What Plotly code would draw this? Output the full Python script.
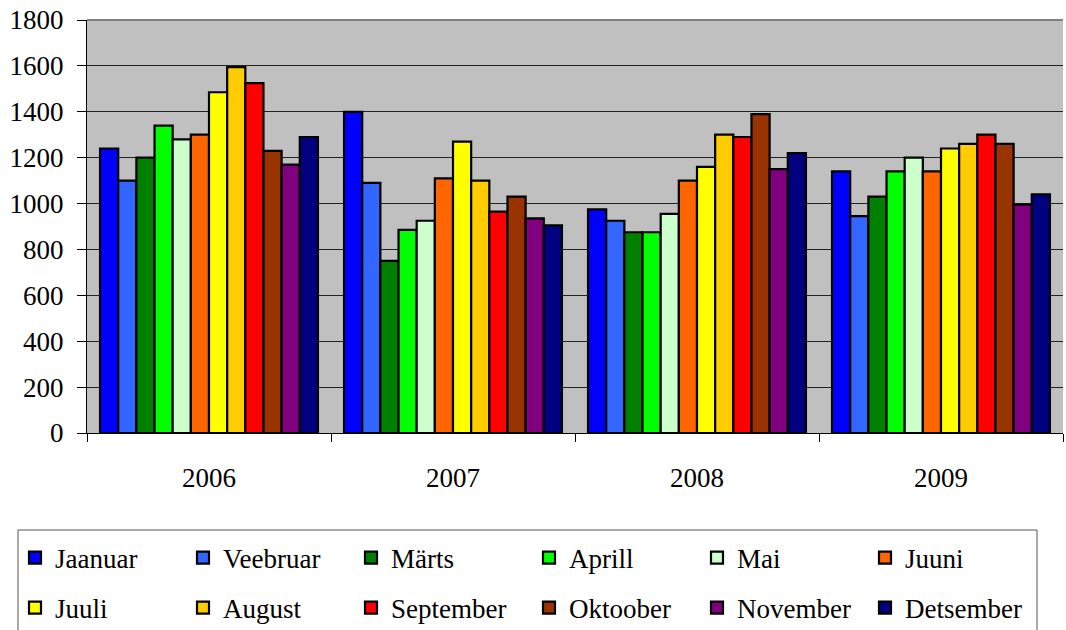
import plotly.graph_objects as go

years = ["2006", "2007", "2008", "2009"]
months = ["Jaanuar", "Veebruar", "Märts", "Aprill", "Mai", "Juuni",
          "Juuli", "August", "September", "Oktoober", "November", "Detsember"]
colors = ["#0000FF", "#3366FF", "#008000", "#00FF00", "#CCFFCC", "#FF6600",
          "#FFFF00", "#FFCC00", "#FF0000", "#993300", "#800080", "#000080"]

jaanuar = [1240, 1400, 975, 1140]
veebruar = [1100, 1090, 925, 945]
marts = [1200, 750, 875, 1030]
aprill = [1340, 885, 875, 1140]
mai = [1280, 925, 955, 1200]
juuni = [1300, 1110, 1100, 1140]
juuli = [1485, 1270, 1160, 1240]
august = [1595, 1100, 1300, 1260]
september = [1525, 965, 1290, 1300]
oktoober = [1230, 1030, 1390, 1260]
november = [1170, 935, 1150, 995]
detsember = [1290, 905, 1220, 1040]

series = [jaanuar, veebruar, marts, aprill, mai, juuni,
          juuli, august, september, oktoober, november, detsember]

legend_of = ["legend", "legend", "legend", "legend3", "legend3", "legend3",
             "legend2", "legend2", "legend2", "legend4", "legend4", "legend4"]

FONT = "Times New Roman, Liberation Serif, serif"
FS = 27

fig = go.Figure()
for name, vals, col, lg in zip(months, series, colors, legend_of):
    fig.add_trace(go.Bar(
        x=years, y=vals, name=name, legend=lg,
        marker=dict(color=col, line=dict(color="#000000", width=2.2)),
    ))

W, H = 1066, 630
ml, mr, mt, mb = 87, 3, 20, 197


def leg(xpx, ypx):
    return dict(
        orientation="h", xref="container", yref="container",
        x=xpx / W, y=1 - ypx / H, xanchor="left", yanchor="middle",
        bgcolor="rgba(0,0,0,0)", borderwidth=0,
        entrywidth=123, entrywidthmode="pixels",
        font=dict(family=FONT, size=FS, color="#000000"),
        itemclick=False, itemdoubleclick=False,
    )


fig.update_layout(
    width=W, height=H,
    margin=dict(l=ml, r=mr, t=mt, b=mb, autoexpand=False),
    paper_bgcolor="#FFFFFF",
    plot_bgcolor="#C0C0C0",
    barmode="group",
    bargap=0.107,
    bargroupgap=0,
    font=dict(family=FONT, size=FS, color="#000000"),
    showlegend=True,
    legend=leg(15, 558),
    legend2=leg(15, 608),
    legend3=leg(529, 558),
    legend4=leg(529, 608),
    xaxis=dict(
        type="category", showline=True, linecolor="#000000", linewidth=1,
        ticks="outside", tickson="boundaries", ticklen=8, tickcolor="#000000",
        ticklabelstandoff=21, automargin=False,
        tickfont=dict(family=FONT, size=FS), showgrid=False,
    ),
    yaxis=dict(
        range=[0, 1800], dtick=200, showline=True, linecolor="#000000",
        linewidth=1, ticks="outside", ticklen=9, tickcolor="#000000",
        ticklabelstandoff=8, automargin=False,
        showgrid=True, gridcolor="#222222", gridwidth=1, zeroline=False,
        tickfont=dict(family=FONT, size=FS),
    ),
    shapes=[
        dict(type="line", xref="paper", yref="paper", x0=0, x1=1, y0=1, y1=1,
             line=dict(color="#808080", width=2)),
        dict(type="rect", xref="paper", yref="paper",
             x0=(18 - ml) / 976, x1=(1037 - ml) / 976,
             y0=(433 - 640) / 413, y1=(433 - 530) / 413,
             line=dict(color="#555555", width=1), fillcolor="rgba(0,0,0,0)"),
    ],
)

fig.write_html("out.html",
               config={"displayModeBar": False},
               post_script="document.body.style.margin='0';document.body.style.overflow='hidden';")
